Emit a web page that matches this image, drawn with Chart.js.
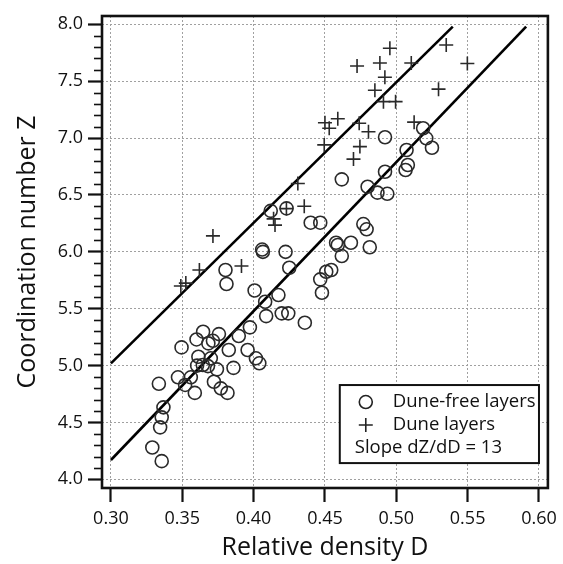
<!DOCTYPE html>
<html><head><meta charset="utf-8">
<script src="https://cdn.jsdelivr.net/npm/chart.js@4/dist/chart.umd.min.js"></script>
<style>html,body{margin:0;padding:0;background:#fff}canvas{display:block}</style>
</head><body>
<canvas id="c" width="563" height="564"></canvas>
<script>
// Dune-free layers (circles)
const duneFreeD = [0.329,0.3356,0.3345,0.3356,0.3368,0.3336,
  0.3495,0.347,0.352,0.356,0.3588,0.360,0.3646,0.3613,0.3604,0.3644,0.368,0.3683,0.3715,0.3757,0.370,0.3743,0.3722,0.377,0.3817,0.3826,0.3859,0.3896,0.3974,0.3958,0.4016,0.404,
  0.3803,0.381,0.4007,0.4081,0.4088,0.4174,0.4197,0.4243,0.425,0.4359,0.406,0.4065,0.4224,
  0.412,0.4231,0.440,0.4467,0.4769,0.4792,0.4578,0.459,0.4682,0.4814,0.4618,0.4544,0.4509,0.4467,0.4479,
  0.4921,0.4618,0.4921,0.4799,0.4868,0.4937,
  0.5188,0.521,0.525,0.5072,0.5081,0.5065];
const duneFreeZ = [4.28,4.16,4.457,4.545,4.633,4.84,
  5.16,4.897,4.83,4.897,4.76,5.23,5.298,5.078,5.0,5.005,4.995,5.195,5.218,5.277,5.064,4.967,4.858,4.80,4.76,5.137,4.98,5.26,5.336,5.137,5.064,5.02,
  5.84,5.717,5.66,5.561,5.435,5.62,5.459,5.459,5.86,5.377,6.02,6.0,6.0,
  6.36,6.382,6.256,6.256,6.244,6.198,6.08,6.06,6.08,6.04,5.963,5.84,5.825,5.758,5.64,
  7.007,6.637,6.704,6.572,6.52,6.51,
  7.086,6.998,6.915,6.895,6.763,6.719];
// Dune layers (crosses)
const duneD = [0.349,0.3525,0.362,0.3715,0.3915,0.414,0.415,0.423,0.431,0.4355,
  0.4495,0.450,0.453,0.459,0.470,0.4725,0.474,0.4745,0.4805,0.485,
  0.4885,0.491,0.492,0.4955,0.4995,0.5105,0.5125,0.5296,0.535,0.5498];
const duneZ = [5.70,5.725,5.84,6.14,5.875,6.29,6.235,6.38,6.60,6.40,
  6.94,7.135,7.086,7.17,6.815,7.633,7.13,6.925,7.056,7.42,
  7.66,7.32,7.534,7.79,7.32,7.66,7.14,7.43,7.818,7.655];
// Fitted lines (slope dZ/dD = 13)
const fitUpperD = [0.30, 0.5396];
const fitUpperZ = [5.02, 7.98];
const fitLowerD = [0.30, 0.591];
const fitLowerZ = [4.17, 7.98];
// Tick labels
const xTickValues = [0.30, 0.35, 0.40, 0.45, 0.50, 0.55, 0.60];
const yTickValues = [4.0, 4.5, 5.0, 5.5, 6.0, 6.5, 7.0, 7.5, 8.0];
const legendLabels = ['Dune-free layers', 'Dune layers', 'Slope dZ/dD = 13'];

const FONT = "'Open Sans', 'DejaVu Sans', sans-serif";
const pts = (xs, ys) => xs.map((x, i) => ({x: x, y: ys[i]}));

const framePlugin = {
  id: 'frame',
  afterDatasetsDraw(chart) {
    const {ctx, chartArea: a, scales} = chart;
    ctx.save();
    // minor ticks on y axis
    ctx.strokeStyle = '#111';
    ctx.lineWidth = 1.6;
    for (let k = 40; k <= 80; k++) {
      if (k % 5 === 0) continue;
      const y = Math.round(scales.y.getPixelForValue(k / 10)) + 0.5;
      ctx.beginPath();
      ctx.moveTo(a.left - 8, y);
      ctx.lineTo(a.left, y);
      ctx.stroke();
    }
    // frame
    ctx.lineWidth = 2.6;
    ctx.strokeStyle = '#111';
    ctx.strokeRect(a.left, a.top, a.right - a.left, a.bottom - a.top);
    // legend box
    const lx = scales.x.getPixelForValue(0.4604), rx = scales.x.getPixelForValue(0.600);
    const ty = scales.y.getPixelForValue(4.829), by = scales.y.getPixelForValue(4.143);
    ctx.fillStyle = '#fff';
    ctx.fillRect(lx, ty, rx - lx, by - ty);
    ctx.lineWidth = 2;
    ctx.strokeRect(lx, ty, rx - lx, by - ty);
    const rowY = [ty + 17, ty + 40, ty + 63];
    const mx = lx + 26;
    ctx.strokeStyle = '#222';
    ctx.lineWidth = 1.6;
    ctx.beginPath(); ctx.arc(mx, rowY[0], 6.5, 0, Math.PI * 2); ctx.stroke();
    ctx.beginPath();
    ctx.moveTo(mx - 7, rowY[1]); ctx.lineTo(mx + 7, rowY[1]);
    ctx.moveTo(mx, rowY[1] - 7); ctx.lineTo(mx, rowY[1] + 7);
    ctx.stroke();
    ctx.fillStyle = '#111';
    ctx.font = '18.5px ' + FONT;
    ctx.textBaseline = 'middle';
    ctx.textAlign = 'left';
    ctx.fillText(legendLabels[0], lx + 53, rowY[0]);
    ctx.fillText(legendLabels[1], lx + 53, rowY[1]);
    ctx.fillText(legendLabels[2], lx + 15, rowY[2]);
    ctx.restore();
  }
};

new Chart(document.getElementById('c'), {
  type: 'scatter',
  data: {
    datasets: [
      {label: legendLabels[0], data: pts(duneFreeD, duneFreeZ), pointStyle: 'circle', pointRadius: 6.5,
       pointBorderWidth: 1.6, borderColor: '#222', backgroundColor: 'rgba(0,0,0,0)', pointBackgroundColor: 'rgba(0,0,0,0)', pointBorderColor: '#2a2a2a'},
      {label: legendLabels[1], data: pts(duneD, duneZ), pointStyle: 'cross', pointRadius: 7,
       pointBorderWidth: 1.6, borderColor: '#222', pointBorderColor: '#2a2a2a'},
      {type: 'line', label: 'fit upper', data: pts(fitUpperD, fitUpperZ), borderColor: '#000', borderWidth: 2.6,
       pointRadius: 0, fill: false, showLine: true},
      {type: 'line', label: 'fit lower', data: pts(fitLowerD, fitLowerZ), borderColor: '#000', borderWidth: 2.6,
       pointRadius: 0, fill: false, showLine: true}
    ]
  },
  options: {
    responsive: false,
    animation: false,
    devicePixelRatio: 1,
    layout: {padding: {left: 0, top: 16, right: 11, bottom: 0}},
    plugins: {legend: {display: false}, tooltip: {enabled: false}},
    scales: {
      x: {
        type: 'linear', min: 0.29375, max: 0.60625,
        afterBuildTicks: s => { s.ticks = xTickValues.map(v => ({value: v})); },
        afterFit: s => { s.height = 76; },
        ticks: {callback: v => v.toFixed(2), color: '#111', font: {family: FONT, size: 18}, padding: 6, maxRotation: 0, autoSkip: false},
        grid: {color: '#a0a0a0', lineWidth: 1, tickLength: 14, tickWidth: 2.2, tickColor: '#111'},
        border: {display: false, dash: [2, 2]},
        title: {display: true, text: 'Relative density D', color: '#111', font: {family: FONT, size: 25}, padding: {top: 0, bottom: 1}}
      },
      y: {
        type: 'linear', min: 3.924, max: 8.073,
        afterBuildTicks: s => { s.ticks = yTickValues.map(v => ({value: v})); },
        afterFit: s => { s.width = 102; },
        ticks: {callback: v => v.toFixed(1), color: '#111', font: {family: FONT, size: 18}, padding: 5, autoSkip: false},
        grid: {color: '#a0a0a0', lineWidth: 1, tickLength: 14, tickWidth: 2.2, tickColor: '#111'},
        border: {display: false, dash: [2, 2]},
        title: {display: true, text: 'Coordination number Z', color: '#111', font: {family: FONT, size: 25}, padding: {top: 13, bottom: 0}}
      }
    }
  },
  plugins: [framePlugin]
});
</script>
</body></html>
